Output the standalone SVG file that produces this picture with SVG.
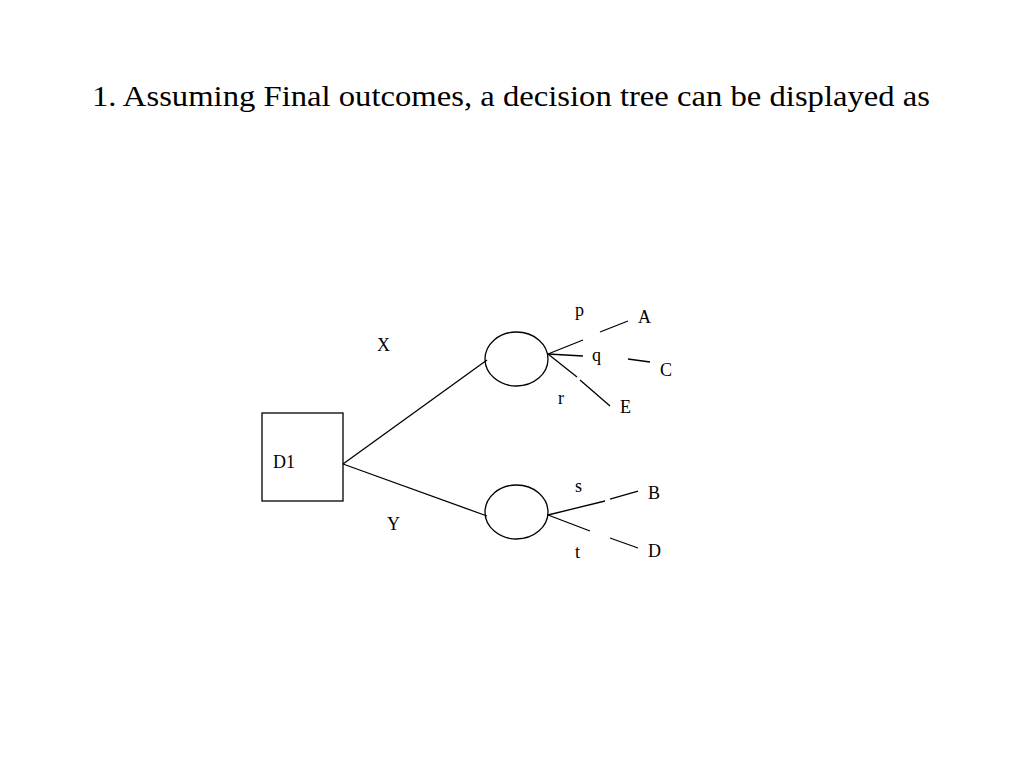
<svg xmlns="http://www.w3.org/2000/svg" width="1024" height="768" viewBox="0 0 1024 768">
<style>
text{font-family:"Liberation Serif","DejaVu Serif",serif;fill:#000}
.l{font-size:18px}
.c line,.n{stroke:#000;stroke-width:1.3;fill:none}
</style>
<rect width="1024" height="768" fill="#fff"/>
<text x="92" y="106" font-size="28.5" textLength="838" lengthAdjust="spacingAndGlyphs">1. Assuming Final outcomes, a decision tree can be displayed as</text>
<g id="D1"><rect class="n" x="262" y="413" width="81" height="88"/><text class="l" x="273" y="468">D1</text></g>
<g id="chance1"><ellipse class="n" cx="516.5" cy="359" rx="31.5" ry="27"/></g>
<g id="chance2"><ellipse class="n" cx="516.5" cy="512" rx="31.5" ry="27"/></g>
<g class="c">
<line x1="343" y1="464" x2="487" y2="360"/>
<line x1="343" y1="464" x2="487" y2="516"/>
<line x1="548" y1="354" x2="583" y2="340"/><line x1="600" y1="332" x2="628" y2="321"/>
<line x1="548" y1="354" x2="583" y2="356"/><line x1="628" y1="359" x2="650" y2="362"/>
<line x1="548" y1="354" x2="577" y2="377"/><line x1="580" y1="380" x2="610" y2="406"/>
<line x1="548" y1="515" x2="605" y2="501"/><line x1="610" y1="499" x2="638" y2="491"/>
<line x1="548" y1="515" x2="590" y2="531"/><line x1="610" y1="538" x2="638" y2="548"/>
</g>
<g class="l">
<text class="l" x="377" y="351">X</text>
<text class="l" x="387" y="530">Y</text>
<text class="l" x="575" y="316">p</text>
<text class="l" x="638" y="323">A</text>
<text class="l" x="592" y="361">q</text>
<text class="l" x="660" y="376">C</text>
<text class="l" x="558" y="404">r</text>
<text class="l" x="620" y="413">E</text>
<text class="l" x="575" y="492">s</text>
<text class="l" x="648" y="499">B</text>
<text class="l" x="575" y="558">t</text>
<text class="l" x="648" y="557">D</text>
</g>
</svg>
